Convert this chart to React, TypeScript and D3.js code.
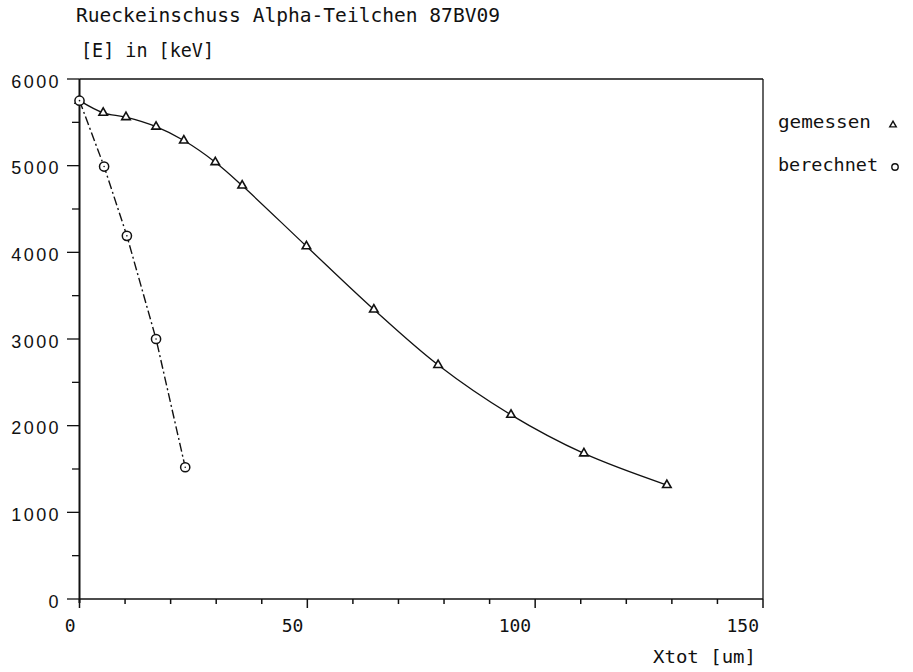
import React from "react";
import * as d3 from "d3";

const gemessenX = [0, 5.2, 10.2, 16.8, 22.9, 29.8, 35.7, 49.8, 64.6, 78.7, 94.7, 110.7, 128.9];
const gemessenY = [5750, 5610, 5560, 5450, 5290, 5040, 4770, 4070, 3340, 2700, 2125, 1680, 1315];
const berechnetX = [0, 5.4, 10.4, 16.8, 23.2];
const berechnetY = [5750, 4990, 4190, 3000, 1520];

const xMajorTicks = [0, 50, 100, 150];
const yMajorTicks = [0, 1000, 2000, 3000, 4000, 5000, 6000];

const titleText = "Rueckeinschuss Alpha-Teilchen 87BV09";
const yUnitText = "[E] in [keV]";
const xAxisText = "Xtot [um]";
const legendLabels = ["gemessen", "berechnet"];

const W = 913;
const H = 672;
const left = 79.5;
const right = 763;
const top = 79;
const bottom = 599;

const plotFont = "'DejaVu Sans Mono', 'Liberation Mono', monospace";
const numFont = "'Liberation Sans', Arial, sans-serif";

function triPath(cx: number, cy: number, s: number) {
  const h = s * 0.87;
  return `M${cx - s / 2},${cy + h / 3} L${cx + s / 2},${cy + h / 3} L${cx},${cy - (2 * h) / 3} Z`;
}

export default function App() {
  const x = d3.scaleLinear().domain([0, 150]).range([left, right]);
  const y = d3.scaleLinear().domain([0, 6000]).range([bottom, top]);

  const gem = gemessenX.map((v, i) => [v, gemessenY[i]] as [number, number]);
  const ber = berechnetX.map((v, i) => [v, berechnetY[i]] as [number, number]);

  const gemLine = d3
    .line<[number, number]>()
    .x((d) => x(d[0]))
    .y((d) => y(d[1]))
    .curve(d3.curveCatmullRom.alpha(0.5));
  const berLine = d3
    .line<[number, number]>()
    .x((d) => x(d[0]))
    .y((d) => y(d[1]))
    .curve(d3.curveLinear);

  const xMinor = d3.range(0, 151, 10);
  const yMinor = d3.range(500, 6000, 1000);

  return (
    <svg
      width={W}
      height={H}
      style={{ position: "absolute", left: 0, top: 0, background: "#fff" }}
    >
      <rect x={0} y={0} width={W} height={H} fill="#fff" />
      {/* title */}
      <text
        x={76}
        y={22}
        fontFamily={plotFont}
        fontSize={19}
        textLength={424}
        lengthAdjust="spacingAndGlyphs"
        fill="#111"
      >
        {titleText}
      </text>
      <text
        x={81}
        y={57}
        fontFamily={plotFont}
        fontSize={19}
        textLength={133}
        lengthAdjust="spacingAndGlyphs"
        fill="#111"
      >
        {yUnitText}
      </text>

      {/* frame */}
      <line x1={left} y1={top} x2={right} y2={top} stroke="#111" strokeWidth={1.5} />
      <line x1={right} y1={top} x2={right} y2={bottom} stroke="#111" strokeWidth={1.3} />
      <line x1={left} y1={bottom} x2={right} y2={bottom} stroke="#111" strokeWidth={1.5} />
      <line x1={left} y1={top} x2={left} y2={bottom + 4} stroke="#111" strokeWidth={2} />

      {/* y ticks */}
      {yMajorTicks.map((t) => (
        <g key={"ym" + t}>
          <line x1={67} y1={y(t)} x2={left} y2={y(t)} stroke="#111" strokeWidth={1.3} />
          <text
            x={61}
            y={y(t) + 8.5}
            fontFamily={numFont}
            fontSize={18}
            letterSpacing={2.4}
            textAnchor="end"
            fill="#111"
          >
            {t}
          </text>
        </g>
      ))}
      {yMinor.map((t) => (
        <line key={"yn" + t} x1={72} y1={y(t)} x2={left} y2={y(t)} stroke="#111" strokeWidth={1.3} />
      ))}

      {/* x ticks */}
      {xMinor.map((t) => (
        <line
          key={"xn" + t}
          x1={x(t)}
          y1={bottom}
          x2={x(t)}
          y2={bottom + (t % 50 === 0 ? 9 : 5)}
          stroke="#111"
          strokeWidth={1.5}
        />
      ))}
      {xMajorTicks.map((t) => (
        <text
          key={"xl" + t}
          x={x(t) - 4}
          y={632}
          fontFamily={plotFont}
          fontSize={18}
          textAnchor="end"
          fill="#111"
        >
          {t}
        </text>
      ))}
      <text
        x={653}
        y={663}
        fontFamily={plotFont}
        fontSize={18}
        textLength={103}
        lengthAdjust="spacingAndGlyphs"
        fill="#111"
      >
        {xAxisText}
      </text>

      {/* lines */}
      <path d={gemLine(gem) || ""} fill="none" stroke="#111" strokeWidth={1.3} />
      <path
        d={berLine(ber) || ""}
        fill="none"
        stroke="#111"
        strokeWidth={1.4}
        strokeDasharray="9,3,2,3"
      />

      {/* markers */}
      {gem.map((d, i) => (
        <path
          key={"gt" + i}
          d={triPath(x(d[0]), y(d[1]), 8.5)}
          fill="#fff"
          stroke="#111"
          strokeWidth={1.6}
        />
      ))}
      {ber.map((d, i) => (
        <g key={"bc" + i}>
          <circle cx={x(d[0])} cy={y(d[1])} r={4.6} fill="#fff" stroke="#111" strokeWidth={1.5} />
          <circle cx={x(d[0])} cy={y(d[1])} r={0.8} fill="#111" />
        </g>
      ))}

      {/* legend */}
      <text
        x={778}
        y={128}
        fontFamily={plotFont}
        fontSize={18}
        textLength={93}
        lengthAdjust="spacingAndGlyphs"
        fill="#111"
      >
        {legendLabels[0]}
      </text>
      <path d={triPath(893, 125, 6.5)} fill="#fff" stroke="#111" strokeWidth={1.4} />
      <text
        x={778}
        y={171}
        fontFamily={plotFont}
        fontSize={18}
        textLength={100}
        lengthAdjust="spacingAndGlyphs"
        fill="#111"
      >
        {legendLabels[1]}
      </text>
      <circle cx={895} cy={167} r={3.2} fill="#fff" stroke="#111" strokeWidth={1.4} />
    </svg>
  );
}
